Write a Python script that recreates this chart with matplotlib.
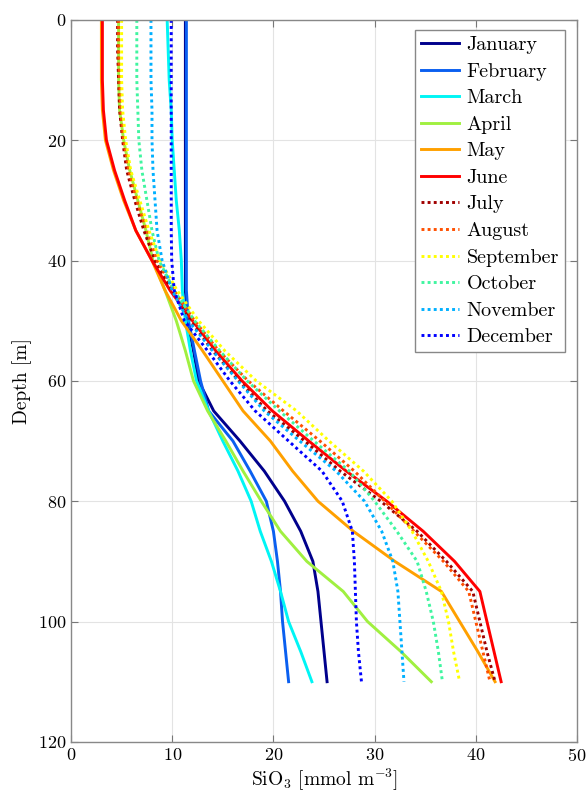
import matplotlib
matplotlib.use("Agg")
import matplotlib.pyplot as plt

plt.rcParams["font.family"] = ["cmr10", "DejaVu Serif"]
plt.rcParams["mathtext.fontset"] = "cm"
plt.rcParams["axes.formatter.use_mathtext"] = True

depth = [0, 5, 10, 15, 20, 25, 30, 35, 40, 45, 50, 55, 60, 65, 70, 75, 80, 85, 90, 95, 100, 105, 110]

months = ["January", "February", "March", "April", "May", "June",
          "July", "August", "September", "October", "November", "December"]

jan = [11.3, 11.3, 11.3, 11.3, 11.3, 11.3, 11.3, 11.3, 11.3, 11.3, 11.5, 12.1, 12.6, 14.1, 16.7, 19.1, 21.1, 22.7, 23.9, 24.4, 24.7, 25.0, 25.3]
feb = [11.4, 11.4, 11.4, 11.4, 11.4, 11.4, 11.4, 11.4, 11.4, 11.4, 11.6, 12.2, 12.8, 13.6, 16.0, 17.7, 19.3, 20.0, 20.4, 20.7, 20.9, 21.2, 21.5]
mar = [9.5, 9.6, 9.7, 9.9, 10.0, 10.2, 10.4, 10.7, 10.9, 11.0, 11.3, 11.8, 12.4, 13.6, 15.0, 16.5, 17.8, 18.7, 19.8, 20.7, 21.5, 22.7, 23.8]
apr = [4.7, 4.7, 4.7, 4.8, 5.2, 5.8, 6.6, 7.4, 8.1, 9.3, 10.4, 11.3, 12.1, 13.5, 15.3, 17.0, 18.8, 20.7, 23.3, 26.9, 29.3, 32.6, 35.6]
may = [3.0, 3.0, 3.0, 3.1, 3.4, 4.2, 5.2, 6.4, 8.0, 9.3, 10.9, 13.0, 15.0, 17.0, 19.7, 21.9, 24.4, 27.9, 32.0, 36.6, 38.4, 40.2, 41.9]
jun = [3.1, 3.1, 3.1, 3.2, 3.5, 4.3, 5.3, 6.4, 8.0, 9.8, 12.0, 14.3, 16.9, 19.9, 23.5, 27.2, 31.2, 34.8, 37.9, 40.4, 41.1, 41.8, 42.5]
jul = [4.6, 4.6, 4.7, 4.8, 5.1, 5.5, 6.3, 7.2, 8.3, 10.0, 11.8, 14.0, 16.6, 19.4, 23.1, 26.6, 30.6, 34.2, 37.1, 39.7, 40.4, 41.1, 41.9]
aug = [4.7, 4.7, 4.8, 4.9, 5.2, 5.7, 6.5, 7.5, 8.5, 10.2, 12.2, 14.6, 17.5, 21.0, 24.6, 28.0, 31.0, 33.9, 36.8, 39.3, 40.0, 40.7, 41.4]
sep = [5.0, 5.0, 5.0, 5.1, 5.4, 5.9, 6.8, 7.7, 8.8, 10.5, 12.6, 15.2, 18.3, 22.3, 25.5, 28.9, 31.7, 33.7, 35.3, 36.6, 37.3, 37.8, 38.4]
oct_ = [6.5, 6.5, 6.5, 6.6, 6.7, 7.0, 7.5, 8.0, 8.7, 10.2, 12.2, 14.7, 17.4, 20.6, 24.0, 27.5, 30.0, 32.2, 34.2, 35.1, 35.8, 36.3, 36.7]
nov = [7.9, 7.9, 7.9, 8.0, 8.0, 8.1, 8.3, 8.5, 9.0, 10.0, 11.6, 14.0, 16.5, 19.1, 22.6, 26.2, 29.0, 30.7, 31.8, 32.3, 32.5, 32.7, 32.9]
dec = [9.9, 9.9, 9.9, 9.9, 9.9, 9.9, 9.9, 9.9, 9.95, 10.2, 11.2, 13.5, 15.7, 18.2, 21.5, 24.8, 26.8, 27.8, 28.0, 28.1, 28.2, 28.4, 28.7]

series = [jan, feb, mar, apr, may, jun, jul, aug, sep, oct_, nov, dec]
colors = ["#00008c", "#0a5ff0", "#00f5f5", "#a0f040", "#ffa000", "#ff0000",
          "#a00000", "#ff5000", "#ffff00", "#40f5a0", "#00b0ff", "#0000ff"]
styles = ["-"] * 6 + [(0, (1, 1.1))] * 6

fig = plt.figure(figsize=(5.87, 7.96), dpi=100)
ax = fig.add_axes([0.121, 0.068, 0.862, 0.907])

for vals, name, col, ls in zip(series, months, colors, styles):
    ax.plot(vals, depth, color=col, linestyle=ls, linewidth=2.1, label=name)

ax.set_xlim(0, 50)
ax.set_ylim(120, 0)
ax.set_xticks(range(0, 51, 10))
ax.set_yticks(range(0, 121, 20))
ax.grid(True, color="#e3e3e3", linewidth=0.8)
ax.set_axisbelow(True)
ax.tick_params(direction="in", top=True, right=True, labelsize=13,
               color="#777777", length=5)
for sp in ax.spines.values():
    sp.set_color("#888888")
    sp.set_linewidth(1.0)

ax.set_xlabel(r"SiO$_3$ [mmol m$^{-3}$]", fontsize=14, labelpad=2)
ax.set_ylabel("Depth [m]", fontsize=14, labelpad=4)

leg = ax.legend(loc="upper right", fontsize=14.5, handlelength=1.9,
                labelspacing=0.42, borderpad=0.3, handletextpad=0.35,
                borderaxespad=0, fancybox=False, framealpha=1,
                edgecolor="#888888", bbox_to_anchor=(0.976, 0.986))
leg.get_frame().set_linewidth(1.0)

fig.savefig("out.png", dpi=100)
